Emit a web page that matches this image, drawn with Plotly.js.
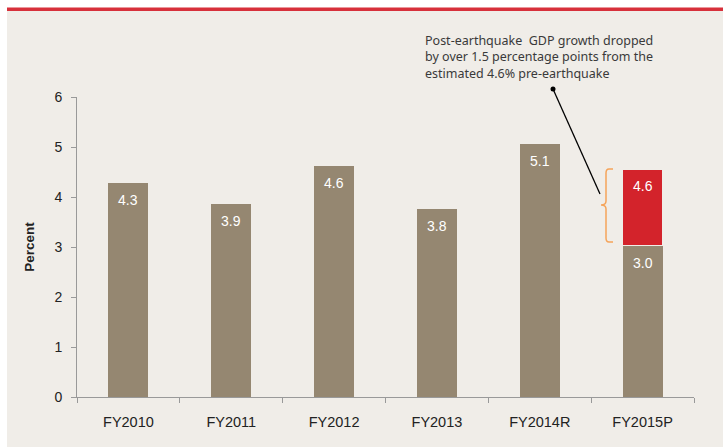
<!DOCTYPE html>
<html><head><meta charset="utf-8">
<script src="https://cdn.plot.ly/plotly-3.0.1.min.js"></script>
<style>html,body{margin:0;padding:0;background:#fff}#chart{width:723px;height:447px}</style>
</head><body><div id="chart"></div>
<script>
// Data
const categories = ['FY2010','FY2011','FY2012','FY2013','FY2014R','FY2015P'];
const actualGrowth = [4.28, 3.86, 4.62, 3.77, 5.07, 3.03];
const actualLabels = ['4.3','3.9','4.6','3.8','5.1','3.0'];
const preQuakeCategory = ['FY2015P'];
const preQuakeEstimate = [4.56];
const preQuakeLabels = ['4.6'];
const noteText = 'Post-earthquake  GDP growth dropped<br>by over 1.5 percentage points from the<br>estimated 4.6% pre-earthquake';

const tan = '#958771', red = '#D3232B';
const lastIdx = categories.indexOf(preQuakeCategory[0]);
const gap = preQuakeEstimate.map((v,i)=> v - actualGrowth[lastIdx]);

const traces = [
  {type:'bar', x:categories, y:actualGrowth, marker:{color:tan}, hoverinfo:'skip'},
  {type:'bar', x:preQuakeCategory, y:gap, marker:{color:red, line:{color:'#F0EDE8', width:1}}, hoverinfo:'skip'}
];

const lblFont = {family:'Liberation Sans, Arial', size:14, color:'#fff'};
const labelAnns = categories.map((c,i)=>({x:c, y:actualGrowth[i], xref:'x', yref:'y', text:actualLabels[i],
  showarrow:false, yanchor:'top', yshift:-7, font:lblFont}));
preQuakeCategory.forEach((c,i)=>labelAnns.push({x:c, y:preQuakeEstimate[i], xref:'x', yref:'y', text:preQuakeLabels[i],
  showarrow:false, yanchor:'top', yshift:-7, font:lblFont}));

// pixel->paper helpers: plot area x 77..694, y 97..397
const px = p => (p-77)/617, py = p => (397-p)/300;

const shapes = [
  {type:'rect', xref:'paper', yref:'paper', x0:px(7), x1:px(723), y0:py(447), y1:py(11), fillcolor:'#F0EDE8', line:{width:0}, layer:'below'},
  {type:'rect', xref:'paper', yref:'paper', x0:px(7), x1:px(723), y0:py(11), y1:py(7.5), fillcolor:'#D7303B', line:{width:0}, layer:'below'},
  // bracket
  {type:'path', xref:'paper', yref:'paper', layer:'above',
   path:`M${px(613)},${py(169)} L${px(609)},${py(169)} Q${px(606)},${py(169)} ${px(606)},${py(173)} L${px(606)},${py(201)} Q${px(606)},${py(205)} ${px(601)},${py(205)} Q${px(606)},${py(205)} ${px(606)},${py(209)} L${px(606)},${py(238)} Q${px(606)},${py(242)} ${px(609)},${py(242)} L${px(613)},${py(242)}`,
   line:{color:'#F5A45A', width:1.5}},
  // pointer line
  {type:'line', xref:'paper', yref:'paper', x0:px(553), y0:py(89), x1:px(600), y1:py(194), line:{color:'#000', width:1.3}, layer:'above'},
  {type:'circle', xref:'paper', yref:'paper', x0:px(550.5), x1:px(555.5), y0:py(86.5), y1:py(91.5), fillcolor:'#000', line:{width:0}, layer:'above'}
];

const anns = labelAnns.concat([
  {xref:'paper', yref:'paper', x:px(423), y:py(30), xanchor:'left', yanchor:'top', align:'left', showarrow:false,
   text:noteText, font:{family:'Noto Sans, Open Sans, sans-serif', size:12.5, color:'#3a3a3a'}}
]);

const layout = {
  width:723, height:447, margin:{l:77, r:29, t:97, b:50},
  paper_bgcolor:'#ffffff', plot_bgcolor:'rgba(0,0,0,0)',
  barmode:'stack', bargap:0.61, showlegend:false,
  font:{family:'Liberation Sans, Arial, sans-serif', size:14, color:'#222'},
  xaxis:{type:'category', showgrid:false, zeroline:false, showline:true, linecolor:'#999', linewidth:1,
    ticks:'outside', tickson:'boundaries', ticklen:5, tickcolor:'#999', ticklabelstandoff:12,
    tickfont:{size:14.5, color:'#222'}},
  yaxis:{range:[0,6], dtick:1, showgrid:false, zeroline:false, showline:true, linecolor:'#999', linewidth:1,
    ticks:'outside', ticklen:5, tickcolor:'#999', ticklabelstandoff:6, tickfont:{size:14, color:'#222'},
    title:{text:'<b>Percent</b>', font:{size:13.5, color:'#222'}, standoff:16}},
  shapes:shapes, annotations:anns
};
Plotly.newPlot('chart', traces, layout, {staticPlot:true, displayModeBar:false});
</script></body></html>
